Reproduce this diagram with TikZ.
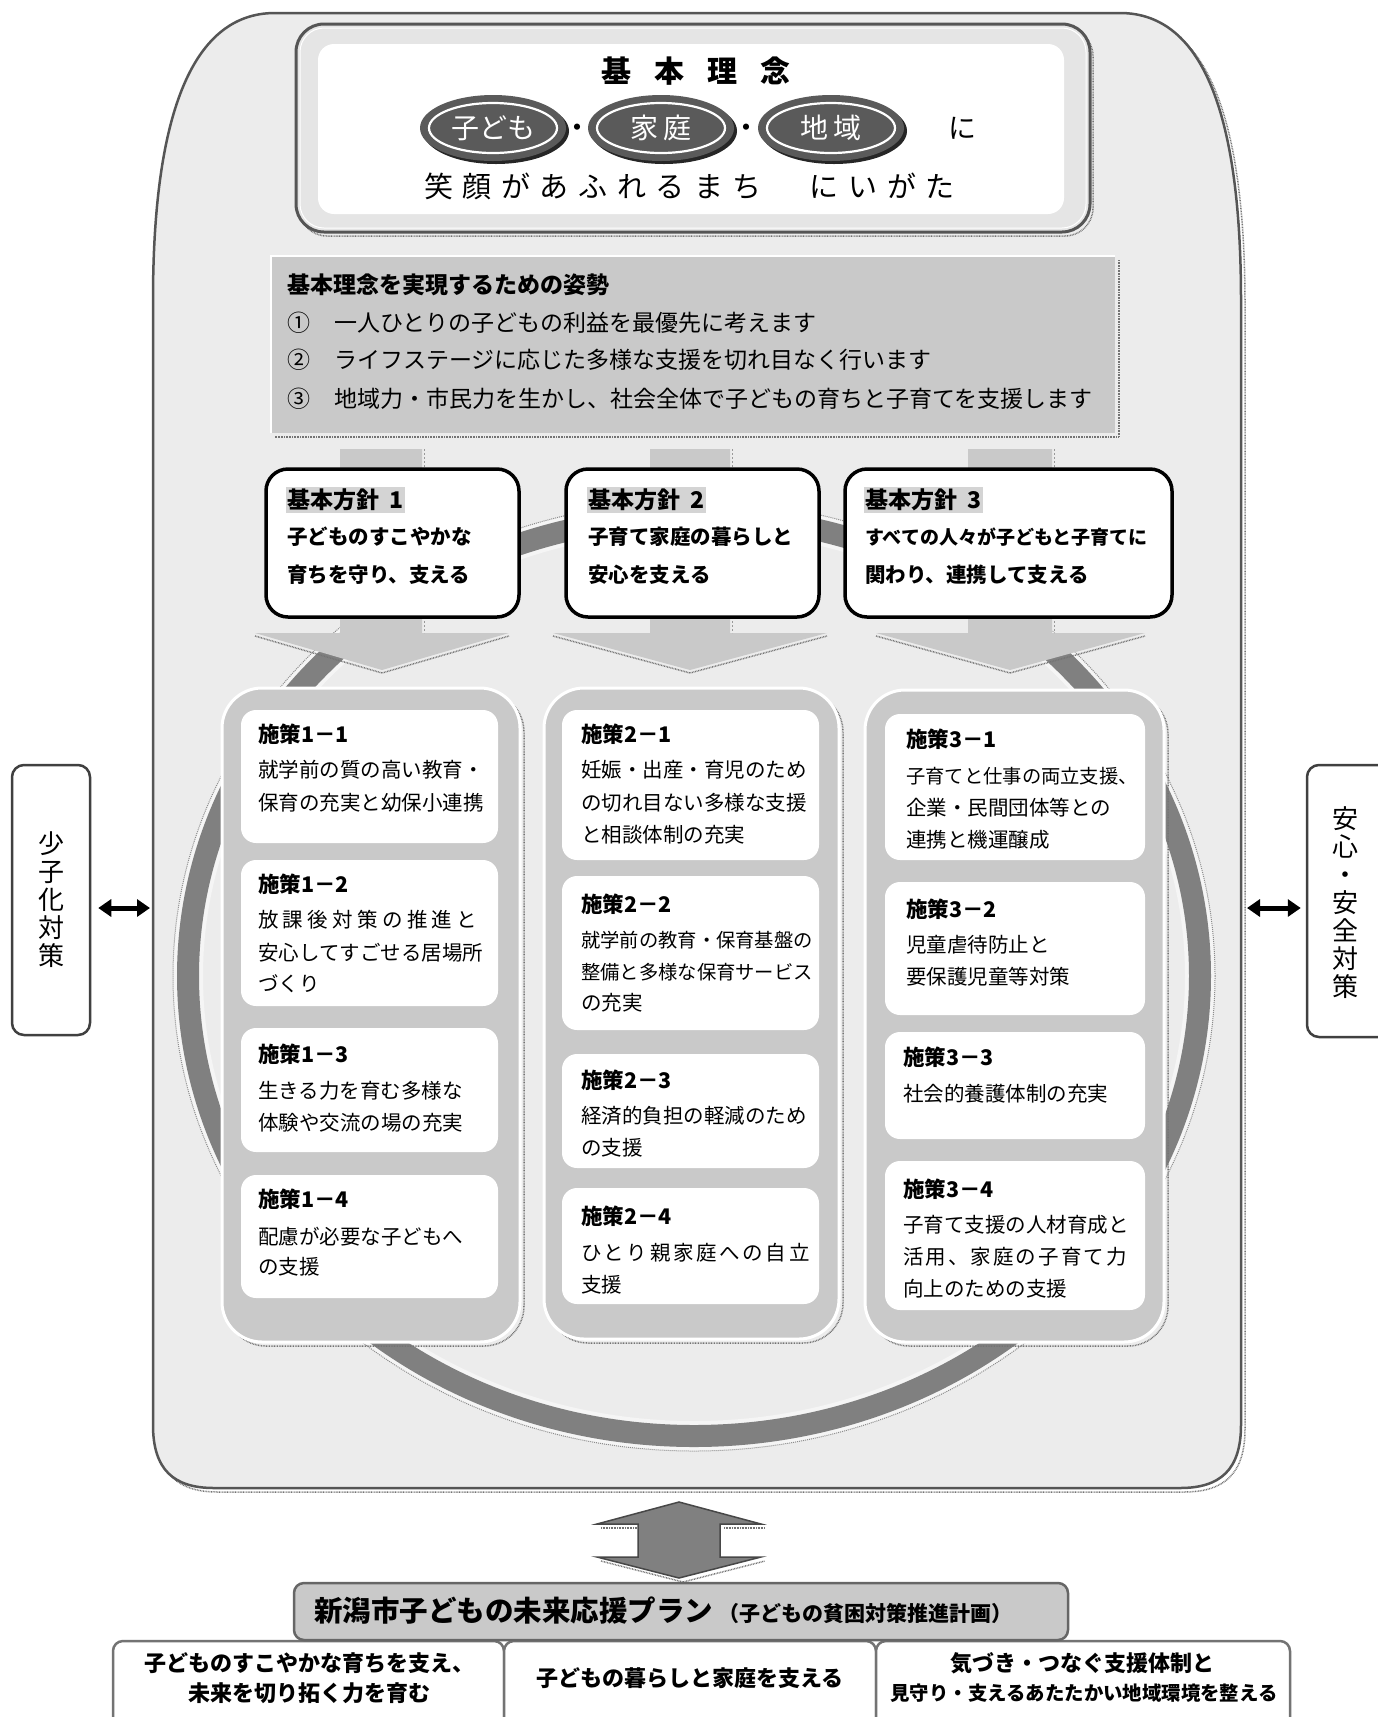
\documentclass[tikz,border=0pt]{standalone}
\usepackage{fontspec}
\setmainfont{Noto Sans CJK JP}
\usetikzlibrary{arrows.meta}
\definecolor{outg}{HTML}{ECECEC}
\definecolor{midg}{HTML}{C9C9C9}
\definecolor{ringg}{HTML}{808080}
\definecolor{edgeg}{HTML}{555555}
\definecolor{hlg}{HTML}{D4D4D4}
\definecolor{ovalg}{HTML}{5A5A5A}
\tikzset{
  zz/.style={draw=black!55, line width=1.5pt, dash pattern=on 0.8pt off 0.8pt},
  colbox/.style={fill=midg, draw=white, line width=3pt, rounded corners=40pt},
  wbox/.style={fill=white, rounded corners=15pt},
  hbox/.style={fill=white, draw=black, line width=3.5pt, rounded corners=22pt},
  ttl/.style={anchor=west, inner sep=0pt, font=\bfseries\fontsize{21.5}{24}\selectfont},
  bdy/.style={anchor=west, inner sep=0pt, font=\fontsize{20.5}{24}\selectfont},
  hb/.style={anchor=west, inner sep=0pt, font=\bfseries\fontsize{20.5}{24}\selectfont},
  pl/.style={anchor=west, inner sep=0pt, font=\fontsize{23}{26}\selectfont},
  bt/.style={inner sep=0pt, font=\bfseries\fontsize{22}{24}\selectfont},
  sidebox/.style={draw=black!75, line width=2.5pt, rounded corners=12pt, fill=white},
  sidetxt/.style={inner sep=0pt, align=center, font=\fontsize{26}{28}\selectfont},
  dbl/.style={line width=5pt, arrows={Triangle[length=13pt,width=17pt]-Triangle[length=13pt,width=17pt]}},
  wtxt/.style={inner sep=0pt, text=white, font=\fontsize{28}{30}\selectfont}
}
\begin{document}
\begin{tikzpicture}[x=1pt,y=-1pt]
\useasboundingbox (0,0) rectangle (1378,1717);
\fill[white] (0,0) rectangle (1378,1717);

% ---------- outer shape ----------
\draw[zz, shift={(4,4)}] (153,1425) -- (153,300) .. controls (153,120) and (190,13) .. (275,13) -- (1120,13) .. controls (1205,13) and (1241,120) .. (1241,300) -- (1241,1425) .. controls (1241,1470) and (1220,1488) .. (1180,1488) -- (214,1488) .. controls (174,1488) and (153,1470) .. (153,1425) -- cycle;
\draw[fill=outg, draw=edgeg, line width=2.5pt] (153,1425) -- (153,300) .. controls (153,120) and (190,13) .. (275,13) -- (1120,13) .. controls (1205,13) and (1241,120) .. (1241,300) -- (1241,1425) .. controls (1241,1470) and (1220,1488) .. (1180,1488) -- (214,1488) .. controls (174,1488) and (153,1470) .. (153,1425) -- cycle;

% ---------- top box ----------
\draw[zz, rounded corners=28pt] (299,28) rectangle (1093,236);
\draw[fill=black!10, draw=edgeg, line width=3pt, rounded corners=28pt] (296,24) rectangle (1090,232);
\draw[white, line width=1pt, rounded corners=24pt] (300,28) rectangle (1086,228);
\fill[white, rounded corners=16pt] (318,44) rectangle (1064,214);

\node[anchor=west, inner sep=0pt, font=\bfseries\fontsize{30}{34}\selectfont\addfontfeature{LetterSpace=77}] (rinen) at (601,71) {基本理念};

\foreach \cx in {493, 661, 831}{
  \fill[black!85] (\cx+3,131) ellipse [x radius=73pt, y radius=33pt];
  \fill[ovalg] (\cx,128) ellipse [x radius=73pt, y radius=33pt];
  \draw[white, line width=2.2pt] (\cx,128) ellipse [x radius=64pt, y radius=25pt];
}
\node[wtxt] (ov1) at (493,128) {子ども};
\node[wtxt] (ov2) at (661,128) {家\hspace{6pt}庭};
\node[wtxt] (ov3) at (831,128) {地\hspace{6pt}域};
\node[inner sep=0pt, font=\bfseries\fontsize{22}{24}\selectfont] (dot1) at (577,130) {・};
\node[inner sep=0pt, font=\bfseries\fontsize{22}{24}\selectfont] (dot2) at (746,130) {・};
\node[inner sep=0pt, font=\fontsize{28}{30}\selectfont] (ni) at (962,128) {に};
\node[anchor=west, inner sep=0pt, font=\fontsize{29}{32}\selectfont\addfontfeature{LetterSpace=33}] (egao) at (424,186) {笑顔があふれるまち　にいがた};

% ---------- attitude box ----------
\draw[zz] (1119,260) -- (1119,437) -- (275,437);
\fill[midg] (271,256) rectangle (1115,433);
\draw[white, line width=2pt] (271,433) -- (271,256) -- (1115,256);
\node[anchor=west, inner sep=0pt, font=\bfseries\fontsize{23}{26}\selectfont] (shisei) at (287,285) {基本理念を実現するための姿勢};
\node[pl] (n1) at (287,323) {①};
\node[pl] (p1) at (334,323) {一人ひとりの子どもの利益を最優先に考えます};
\node[pl] (n2) at (287,360) {②};
\node[pl] (p2) at (334,360) {ライフステージに応じた多様な支援を切れ目なく行います};
\node[pl] (n3) at (287,399) {③};
\node[pl] (p3) at (334,399) {地域力・市民力を生かし、社会全体で子どもの育ちと子育てを支援します};

% ---------- ring ----------
\draw[white!96!black, line width=30pt] (694,976) ellipse [x radius=506pt, y radius=460pt];
\draw[ringg, line width=22pt] (694,976) ellipse [x radius=506pt, y radius=460pt];
\draw[black!45, line width=1pt, dash pattern=on 1pt off 1pt] (694,976) ellipse [x radius=521pt, y radius=475pt];

% ---------- big light arrows ----------
\fill[midg] (340,449) -- (422,449) -- (422,633) -- (509,633) -- (382,670) -- (255,633) -- (340,633) -- cycle;
\draw[zz] (255,636) -- (382,673) -- (509,636);
\fill[midg] (650,449) -- (730,449) -- (730,633) -- (827,633) -- (690,670) -- (553,633) -- (650,633) -- cycle;
\draw[zz] (553,636) -- (690,673) -- (827,636);
\fill[midg] (968,449) -- (1052,449) -- (1052,633) -- (1145,633) -- (1010,670) -- (876,633) -- (968,633) -- cycle;
\draw[zz] (876,636) -- (1010,673) -- (1145,636);
\draw[black!40, dash pattern=on 2pt off 2pt, line width=0.6pt] (424,449) -- (424,633);
\draw[black!40, dash pattern=on 2pt off 2pt, line width=0.6pt] (732,449) -- (732,633);
\draw[black!40, dash pattern=on 2pt off 2pt, line width=0.6pt] (1054,449) -- (1054,633);

% ---------- policy boxes ----------
\draw[hbox] (266,469) rectangle (519,617);
\draw[hbox] (566,469) rectangle (819,617);
\draw[hbox] (845,469) rectangle (1172,617);
\node[anchor=west, fill=hlg, inner sep=1.5pt, font=\bfseries\fontsize{23}{26}\selectfont] (h1) at (286,500) {基本方針\hspace{10pt}1};
\node[hb] (h1a) at (287,537) {子どものすこやかな};
\node[hb] (h1b) at (287,575) {育ちを守り、支える};
\node[anchor=west, fill=hlg, inner sep=1.5pt, font=\bfseries\fontsize{23}{26}\selectfont] (h2) at (587,500) {基本方針\hspace{10pt}2};
\node[hb] (h2a) at (588,537) {子育て家庭の暮らしと};
\node[hb] (h2b) at (588,575) {安心を支える};
\node[anchor=west, fill=hlg, inner sep=1.5pt, font=\bfseries\fontsize{23}{26}\selectfont] (h3) at (864,500) {基本方針\hspace{10pt}3};
\node[anchor=west, inner sep=0pt, font=\bfseries\fontsize{19}{24}\selectfont] (h3a) at (865,537) {すべての人々が子どもと子育てに};
\node[hb] (h3b) at (865,575) {関わり、連携して支える};

% ---------- columns ----------
\draw[zz, rounded corners=40pt] (226,692) rectangle (524,1346);
\draw[zz, rounded corners=40pt] (548,692) rectangle (843,1343);
\draw[zz, rounded corners=40pt] (869,694) rectangle (1168,1346);
\draw[colbox] (222,688) rectangle (520,1342);
\draw[colbox] (544,688) rectangle (839,1339);
\draw[colbox] (865,690) rectangle (1164,1342);

\fill[wbox] (241,710) rectangle (498,843);
\fill[wbox] (241,860) rectangle (498,1006);
\fill[wbox] (241,1028) rectangle (498,1152);
\fill[wbox] (241,1175) rectangle (498,1298);
\fill[wbox] (562,710) rectangle (819,860);
\fill[wbox] (562,876) rectangle (819,1030);
\fill[wbox] (562,1054) rectangle (819,1168);
\fill[wbox] (562,1188) rectangle (819,1304);
\fill[wbox] (885,714) rectangle (1145,860);
\fill[wbox] (885,882) rectangle (1145,1015);
\fill[wbox] (885,1032) rectangle (1145,1139);
\fill[wbox] (885,1161) rectangle (1145,1310);

% column 1
\node[ttl] (t11) at (258,734) {施策1－1};
\node[bdy] (b11a) at (258,770) {就学前の質の高い教育・};
\node[bdy] (b11b) at (258,803) {保育の充実と幼保小連携};
\node[ttl] (t12) at (258,884) {施策1－2};
\node[bdy, font=\fontsize{20.5}{24}\selectfont\addfontfeature{LetterSpace=21}] (b12a) at (258,920) {放課後対策の推進と};
\node[bdy] (b12b) at (258,953) {安心してすごせる居場所};
\node[bdy] (b12c) at (258,984) {づくり};
\node[ttl] (t13) at (258,1054) {施策1－3};
\node[bdy] (b13a) at (258,1091) {生きる力を育む多様な};
\node[bdy] (b13b) at (258,1123) {体験や交流の場の充実};
\node[ttl] (t14) at (258,1199) {施策1－4};
\node[bdy] (b14a) at (258,1237) {配慮が必要な子どもへ};
\node[bdy] (b14b) at (258,1267) {の支援};

% column 2
\node[ttl] (t21) at (581,734) {施策2－1};
\node[bdy] (b21a) at (581,770) {妊娠・出産・育児のため};
\node[bdy] (b21b) at (581,803) {の切れ目ない多様な支援};
\node[bdy] (b21c) at (581,835) {と相談体制の充実};
\node[ttl] (t22) at (581,904) {施策2－2};
\node[bdy, font=\fontsize{19.3}{24}\selectfont] (b22a) at (581,940) {就学前の教育・保育基盤の};
\node[bdy, font=\fontsize{19.3}{24}\selectfont] (b22b) at (581,972) {整備と多様な保育サービス};
\node[bdy] (b22c) at (581,1003) {の充実};
\node[ttl] (t23) at (581,1080) {施策2－3};
\node[bdy] (b23a) at (581,1116) {経済的負担の軽減のため};
\node[bdy] (b23b) at (581,1148) {の支援};
\node[ttl] (t24) at (581,1216) {施策2－4};
\node[bdy, font=\fontsize{20.5}{24}\selectfont\addfontfeature{LetterSpace=13}] (b24a) at (581,1253) {ひとり親家庭への自立};
\node[bdy] (b24b) at (581,1285) {支援};

% column 3
\node[ttl] (t31) at (906,739) {施策3－1};
\node[bdy, font=\fontsize{19.3}{24}\selectfont] (b31a) at (906,776) {子育てと仕事の両立支援、};
\node[bdy] (b31b) at (906,808) {企業・民間団体等との};
\node[bdy] (b31c) at (906,840) {連携と機運醸成};
\node[ttl] (t32) at (906,909) {施策3－2};
\node[bdy] (b32a) at (906,945) {児童虐待防止と};
\node[bdy] (b32b) at (906,977) {要保護児童等対策};
\node[ttl] (t33) at (903,1057) {施策3－3};
\node[bdy] (b33a) at (903,1094) {社会的養護体制の充実};
\node[ttl] (t34) at (903,1189) {施策3－4};
\node[bdy] (b34a) at (903,1225) {子育て支援の人材育成と};
\node[bdy, font=\fontsize{20.5}{24}\selectfont\addfontfeature{LetterSpace=10}] (b34b) at (903,1257) {活用、家庭の子育て力};
\node[bdy] (b34c) at (903,1289) {向上のための支援};

% ---------- side boxes ----------
\node[sidebox, minimum width=78pt, minimum height=270pt] (lbox) at (51,900) {};
\node[sidetxt] (ltxt) at (51,900) {少\\子\\化\\対\\策};
\node[sidebox, minimum width=88pt, minimum height=272pt] (rbox) at (1351,901) {};
\node[sidetxt] (rtxt) at (1345,903) {安\\心\\・\\安\\全\\対\\策};
\coordinate (oL) at (150,908);
\coordinate (oR) at (1247,908);
\draw[dbl] ([shift={(7pt,-8pt)}]lbox.east) -- (oL);
\draw[dbl] (oR) -- ([shift={(-5pt,-7pt)}]rbox.west);

% ---------- big vertical arrow ----------
\draw[zz] (601,1528) -- (642,1528);
\draw[zz] (724,1528) -- (765,1528);
\draw[zz] (601,1561) -- (683,1582) -- (765,1561);
\draw[fill=black!50, draw=black!72, line width=1.5pt] (679,1502) -- (761,1524) -- (720,1524) -- (720,1557) -- (761,1557) -- (679,1578) -- (597,1557) -- (638,1557) -- (638,1524) -- (597,1524) -- cycle;

% ---------- bottom boxes ----------
\draw[fill=white, draw=black!55, line width=2.5pt, rounded corners=10pt] (113,1745) -- (113,1641) -- (504,1641) -- (504,1745);
\draw[fill=white, draw=black!55, line width=2.5pt, rounded corners=10pt] (504,1745) -- (504,1641) -- (876,1641) -- (876,1745);
\draw[fill=white, draw=black!55, line width=2.5pt, rounded corners=10pt] (876,1745) -- (876,1641) -- (1290,1641) -- (1290,1745);
\draw[fill=midg, draw=black!60, line width=2.5pt, rounded corners=10pt] (294,1583) rectangle (1068,1640);
\node[anchor=west, inner sep=0pt, font=\bfseries\fontsize{28.5}{30}\selectfont] (plan) at (314,1611) {新潟市子どもの未来応援プラン};
\node[anchor=west, inner sep=0pt, font=\bfseries\fontsize{21}{24}\selectfont] (plan2) at (718,1613) {（子どもの貧困対策推進計画）};
\node[bt] (q1a) at (309,1663) {子どものすこやかな育ちを支え、};
\node[bt] (q1b) at (309,1693) {未来を切り拓く力を育む};
\node[bt] (q2) at (690,1678) {子どもの暮らしと家庭を支える};
\node[bt] (q3a) at (1082,1663) {気づき・つなぐ支援体制と};
\node[bt, font=\bfseries\fontsize{19.4}{24}\selectfont] (q3b) at (1084,1693) {見守り・支えるあたたかい地域環境を整える};
\end{tikzpicture}
\end{document}
